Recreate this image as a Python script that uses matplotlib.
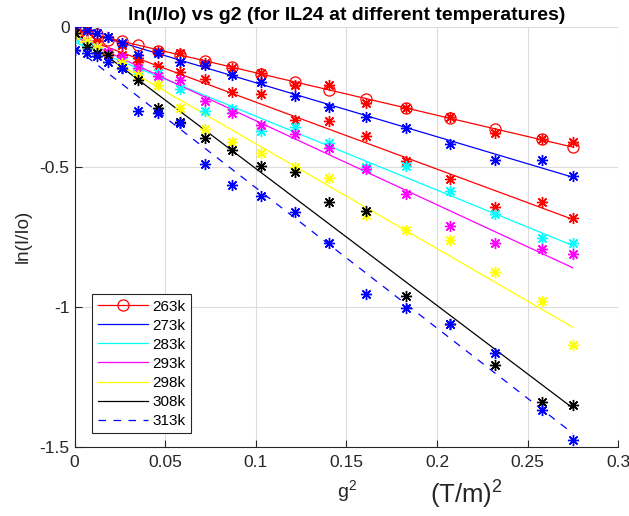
"""ln(I/Io) vs g^2 for IL24 at different temperatures."""
import matplotlib
matplotlib.use("Agg")
import matplotlib.pyplot as plt
import numpy as np
from matplotlib.lines import Line2D

plt.rcParams["font.family"] = ["Liberation Sans", "DejaVu Sans"]
plt.rcParams["mathtext.fontset"] = "custom"
plt.rcParams["mathtext.rm"] = "Liberation Sans"
plt.rcParams["mathtext.it"] = "Liberation Sans"

# g^2 values (T/m)^2
g2 = [0.0, 0.0067, 0.0122, 0.0185, 0.026, 0.035, 0.046, 0.058, 0.072, 0.0866,
      0.103, 0.1217, 0.1404, 0.161, 0.183, 0.207, 0.2318, 0.258, 0.2749]

# ln(I/Io) per series
y263_circ = [-0.01, -0.02, -0.025, -0.045, -0.05, -0.065, -0.085, -0.10, -0.122, -0.143,
             -0.168, -0.197, -0.224, -0.258, -0.290, -0.326, -0.364, -0.401, -0.430]
y263_star = [-0.01, -0.015, -0.05, -0.035, -0.063, -0.11, -0.085, -0.094, -0.128, -0.145,
             -0.166, -0.208, -0.207, -0.270, -0.290, -0.323, -0.380, -0.401, -0.410]
y273 = [0.0, -0.011, -0.023, -0.035, -0.058, -0.10, -0.094, -0.124, -0.136, -0.171,
        -0.195, -0.246, -0.285, -0.320, -0.362, -0.418, -0.475, -0.475, -0.531]
y_red2 = [-0.03, -0.05, -0.06, -0.095, -0.10, -0.125, -0.14, -0.16, -0.187, -0.231,
          -0.239, -0.332, -0.335, -0.389, -0.48, -0.543, -0.642, -0.624, -0.681]
y283 = [-0.04, -0.06, -0.075, -0.09, -0.12, -0.152, -0.164, -0.22, -0.299, -0.294,
        -0.370, -0.358, -0.413, -0.50, -0.497, -0.585, -0.668, -0.755, -0.773]
y293 = [-0.03, -0.05, -0.07, -0.09, -0.108, -0.148, -0.175, -0.19, -0.263, -0.308,
        -0.35, -0.382, -0.433, -0.507, -0.598, -0.711, -0.773, -0.793, -0.811]
y298 = [-0.03, -0.05, -0.07, -0.10, -0.13, -0.17, -0.206, -0.29, -0.363, -0.41,
        -0.449, -0.501, -0.54, -0.671, -0.725, -0.761, -0.877, -0.981, -1.138]
y308 = [-0.02, -0.07, -0.093, -0.101, -0.147, -0.19, -0.29, -0.34, -0.398, -0.439,
        -0.496, -0.519, -0.626, -0.656, -0.961, -1.061, -1.207, -1.342, -1.352]
y313 = [-0.082, -0.094, -0.104, -0.124, -0.148, -0.302, -0.306, -0.344, -0.490, -0.563,
        -0.604, -0.662, -0.773, -0.955, -1.005, -1.061, -1.166, -1.368, -1.477]

labels = ["263k", "273k", "283k", "293k", "298k", "308k", "313k"]

RED, BLUE, CYAN, MAG, YEL, BLK = "#ff0000", "#0000ff", "#00ffff", "#ff00ff", "#ffff00", "#000000"
STAR = (8, 2, 0)

fig = plt.figure(figsize=(6.29, 5.16), dpi=100)
ax = fig.add_axes([0.1186, 0.1343, 0.8644, 0.8134])

x = np.array(g2)
xfit = np.array([x.min(), x.max()])


def fit_line(y, color, **kw):
    p = np.polyfit(x, y, 1)
    ax.plot(xfit, np.polyval(p, xfit), color=color, lw=0.9, **kw)


# fitted lines
fit_line(y263_circ, RED)
fit_line(y273, BLUE)
fit_line(y_red2, RED)
fit_line(y283, CYAN)
fit_line(y293, MAG)
fit_line(y298, YEL)
fit_line(y308, BLK)
fit_line(y313, BLUE, ls="--", dashes=(6, 6))

# measured points
ax.plot(x, y263_circ, "o", color=RED, ms=8, mfc="none", mew=0.9)
for y, c in [(y263_star, RED), (y273, BLUE), (y_red2, RED), (y283, CYAN),
             (y293, MAG), (y298, YEL), (y308, BLK), (y313, BLUE)]:
    ax.plot(x, y, ls="none", marker=STAR, color=c, ms=8, mew=1.0)

ax.set_xlim(0, 0.3)
ax.set_ylim(-1.5, 0)
ax.set_xticks([0, 0.05, 0.1, 0.15, 0.2, 0.25, 0.3])
ax.set_xticklabels(["0", "0.05", "0.1", "0.15", "0.2", "0.25", "0.3"])
ax.set_yticks([-1.5, -1, -0.5, 0])
ax.set_yticklabels(["-1.5", "-1", "-0.5", "0"])
ax.grid(True, color="#dcdcdc", lw=0.8)
ax.set_axisbelow(True)
for s in ["top", "right"]:
    ax.spines[s].set_visible(False)
for s in ["left", "bottom"]:
    ax.spines[s].set_color("#262626")
    ax.spines[s].set_linewidth(0.8)
ax.tick_params(direction="in", length=5, width=0.8, colors="#262626", labelsize=12.5)
ax.tick_params(axis="x", pad=6)

ax.set_title("ln(I/Io) vs g2 (for IL24 at different temperatures)",
             fontsize=14, fontweight="bold", pad=5)
ax.set_ylabel("ln(I/Io)", fontsize=13.5, color="#262626", labelpad=6)
ax.set_xlabel(r"$\mathrm{g}^{2}$", fontsize=14, color="#262626", labelpad=6)
fig.text(0.684, 0.04, r"$\mathrm{(T/m)}^{2}$", fontsize=18.5, color="#262626",
         ha="left", va="center")

handles = [
    Line2D([], [], color=RED, lw=0.9, marker="o", mfc="none", ms=8, mew=0.9),
    Line2D([], [], color=BLUE, lw=0.9),
    Line2D([], [], color=CYAN, lw=0.9),
    Line2D([], [], color=MAG, lw=0.9),
    Line2D([], [], color=YEL, lw=0.9),
    Line2D([], [], color=BLK, lw=0.9),
    Line2D([], [], color=BLUE, lw=0.9, ls="--", dashes=(6, 6)),
]
leg = ax.legend(handles, labels, loc="upper left", bbox_to_anchor=(0.0326, 0.363),
                borderaxespad=0, fontsize=11, handlelength=3.3, labelspacing=0.33,
                handletextpad=0.3, borderpad=0.35, fancybox=False, framealpha=1)
leg.get_frame().set_edgecolor("#262626")
leg.get_frame().set_linewidth(0.8)

fig.savefig("out.png", dpi=100)
